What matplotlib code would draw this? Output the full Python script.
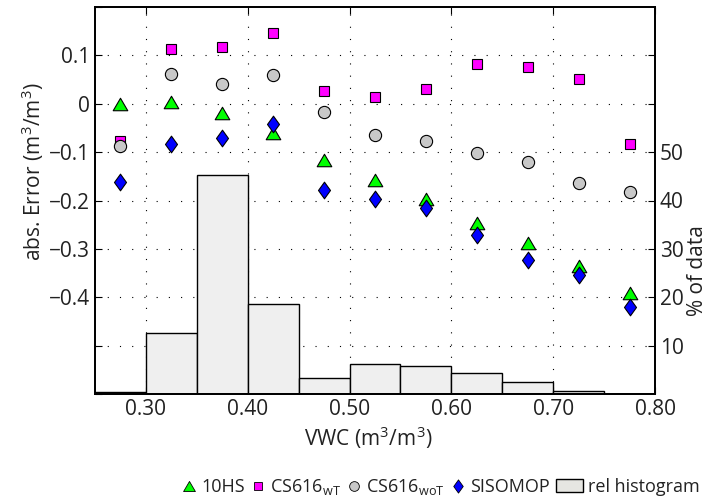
import matplotlib
matplotlib.use("Agg")
import matplotlib.pyplot as plt
import numpy as np
from matplotlib.path import Path
from matplotlib.lines import Line2D
from matplotlib.patches import Patch
from matplotlib.legend_handler import HandlerPatch

plt.rcParams['font.family'] = ['Open Sans', 'DejaVu Sans']
plt.rcParams['mathtext.fontset'] = 'custom'
plt.rcParams['mathtext.rm'] = 'Open Sans'
plt.rcParams['mathtext.it'] = 'Open Sans'
plt.rcParams['mathtext.bf'] = 'Open Sans'
plt.rcParams['axes.unicode_minus'] = True

# soil water content bins (m3/m3)
bin_edges = [0.25, 0.30, 0.35, 0.40, 0.45, 0.50, 0.55, 0.60, 0.65, 0.70, 0.75, 0.80]
bin_centers = [0.275, 0.325, 0.375, 0.425, 0.475, 0.525, 0.575, 0.625, 0.675, 0.725, 0.775]

# share of data per bin (%)
rel_hist = [0.5, 12.7, 45.2, 18.6, 3.3, 6.1, 5.8, 4.3, 2.4, 0.55, 0.1]

# absolute error per sensor (m3/m3)
err_10hs = [0.000, 0.003, -0.019, -0.061, -0.117, -0.158, -0.196, -0.246, -0.288, -0.335, -0.392]
err_cs616_wt = [-0.078, 0.114, 0.118, 0.147, 0.027, 0.013, 0.031, 0.083, 0.075, 0.051, -0.083]
err_cs616_wot = [-0.088, 0.061, 0.041, 0.059, -0.018, -0.065, -0.078, -0.101, -0.121, -0.164, -0.182]
err_sisomop = [-0.162, -0.083, -0.070, -0.041, -0.179, -0.197, -0.215, -0.271, -0.324, -0.353, -0.421]

x_ticks = [0.30, 0.40, 0.50, 0.60, 0.70, 0.80]
x_ticklabels = ['0.30', '0.40', '0.50', '0.60', '0.70', '0.80']
err_ticks = [-0.6, -0.5, -0.4, -0.3, -0.2, -0.1, 0.0, 0.1, 0.2]
err_ticklabels = ['', '', '\u22120.4', '\u22120.3', '\u22120.2', '\u22120.1', '0', '0.1', '']
pct_ticks = [10, 20, 30, 40, 50, 60, 70]
pct_ticklabels = ['10', '20', '30', '40', '50', '', '']

txt = '#222222'
fs = 15
lfs = 13

# marker shapes
tri = Path([(0, 1), (-1.17, -1), (1.17, -1), (0, 1)],
           [Path.MOVETO, Path.LINETO, Path.LINETO, Path.CLOSEPOLY])
dia = Path([(0, 1), (0.72, 0), (0, -1), (-0.72, 0), (0, 1)],
           [Path.MOVETO, Path.LINETO, Path.LINETO, Path.LINETO, Path.CLOSEPOLY])

fig = plt.figure(figsize=(7.12, 5.03), dpi=100)
ax_h = fig.add_axes([95 / 712, 1 - 394 / 503, 560 / 712, 387 / 503])
ax_e = ax_h.twinx()

# histogram on the right-hand axis
widths = np.diff(bin_edges)
ax_h.bar(bin_edges[:-1], rel_hist, width=widths, align='edge',
         color='#efefef', edgecolor='black', linewidth=1.0, zorder=1)
ax_h.set_xlim(0.25, 0.80)
ax_h.set_ylim(0, 80)
ax_h.set_axisbelow(True)
ax_h.set_xticks(x_ticks)
ax_h.set_xticklabels(x_ticklabels)
ax_h.set_yticks(pct_ticks)
ax_h.set_yticklabels(pct_ticklabels)
ax_h.yaxis.tick_right()
ax_h.yaxis.set_label_position('right')
ax_h.grid(True, color='black', linestyle=(0, (1, 10)), linewidth=0.8)
ax_h.tick_params(axis='both', direction='in', length=5, width=0.8,
                 labelsize=fs, labelcolor=txt)
ax_h.tick_params(axis='x', top=True)
ax_h.tick_params(axis='y', left=False, labelleft=False, right=True, labelright=True)
ax_h.set_ylabel('% of data', fontsize=fs, color=txt)
ax_h.yaxis.set_label_coords(1.058, 0.318)
ax_h.set_xlabel('VWC (m$^3$/m$^3$)', fontsize=fs, color=txt)
ax_h.xaxis.set_label_coords(0.4875, -0.078)

# sensor errors on the left-hand axis
ax_e.yaxis.tick_left()
ax_e.yaxis.set_label_position('left')
ax_e.set_ylim(-0.6, 0.2)
ax_e.set_yticks(err_ticks)
ax_e.set_yticklabels(err_ticklabels)
ax_e.tick_params(axis='y', direction='in', length=5, width=0.8,
                 labelsize=fs, labelcolor=txt, left=True, right=False,
                 labelleft=True, labelright=False)
ax_e.set_ylabel('abs. Error (m$^3$/m$^3$)', fontsize=fs, color=txt)
ax_e.yaxis.set_label_coords(-0.087, 0.574)

mk = dict(linestyle='none', markeredgecolor='black', markeredgewidth=0.8, zorder=3)
ax_e.plot(bin_centers, err_10hs, marker=tri, markersize=10.5, markerfacecolor='#00ff00', **mk)
ax_e.plot(bin_centers, err_cs616_wt, marker='s', markersize=7, markerfacecolor='#ff00ff', **mk)
ax_e.plot(bin_centers, err_cs616_wot, marker='o', markersize=8.8, markerfacecolor='#c8c8c8', **mk)
ax_e.plot(bin_centers, err_sisomop, marker=dia, markersize=12, markerfacecolor='#0000ff', **mk)

for a in (ax_h, ax_e):
    for s in a.spines.values():
        s.set_linewidth(1.3)
        s.set_color('black')


class WidePatchHandler(HandlerPatch):
    """Legend swatch that is wider than the marker entries."""

    def legend_artist(self, legend, orig_handle, fontsize, handlebox):
        handlebox.width = handlebox.width * 2.0
        return super().legend_artist(legend, orig_handle, fontsize, handlebox)


# legend below the axes
lmk = dict(linestyle='none', markeredgecolor='black', markeredgewidth=0.6)
hist_handle = Patch(facecolor='#e6e6e2', edgecolor='black', linewidth=1.0)
handles = [
    Line2D([], [], marker=tri, markersize=8.5, markerfacecolor='#00ff00', **lmk),
    Line2D([], [], marker='s', markersize=6, markerfacecolor='#ff00ff', **lmk),
    Line2D([], [], marker='o', markersize=7, markerfacecolor='#c8c8c8', **lmk),
    Line2D([], [], marker=dia, markersize=9.5, markerfacecolor='#0000ff', **lmk),
    hist_handle,
]
labels = ['10HS', 'CS616$_{\\rm wT}$', 'CS616$_{\\rm woT}$', 'SISOMOP', 'rel histogram']
leg = fig.legend(handles, labels, loc='center', bbox_to_anchor=(441 / 712, 1 - 487 / 503),
                 ncol=5, frameon=False, fontsize=lfs, handlelength=0.75, handleheight=0.75,
                 handletextpad=0.3, columnspacing=0.35, borderaxespad=0, borderpad=0,
                 handler_map={hist_handle: WidePatchHandler()})
for t in leg.get_texts():
    t.set_color(txt)

fig.savefig('out.png', dpi=100)
